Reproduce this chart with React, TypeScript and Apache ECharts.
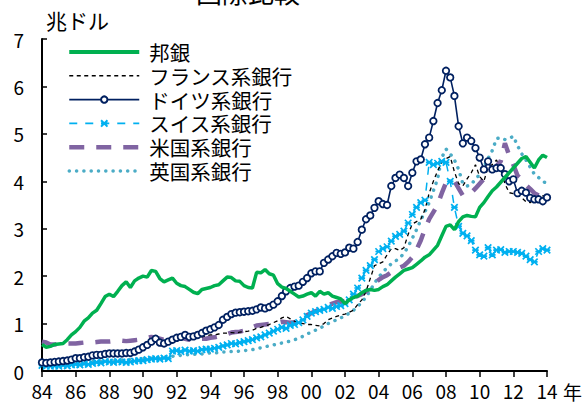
import React, { useEffect, useRef } from "react";
import * as echarts from "echarts";

// quarterly observations, 1984Q1 .. 2014Q1
const START_YEAR = 1984;
const N_QUARTERS = 121;
const xTickLabels = ["84","86","88","90","92","94","96","98","00","02","04","06","08","10","12","14"];

const japan = [
  0.56,0.50,0.52,0.56, 0.57,0.58,0.66,0.76, 0.83,0.92,1.05,1.12, 1.22,1.28,1.42,1.57,
  1.62,1.57,1.68,1.80, 1.88,1.76,1.90,1.96, 2.00,1.98,2.12,2.10, 1.95,1.88,1.92,1.96,
  1.85,1.80,1.78,1.72, 1.66,1.63,1.72,1.74, 1.76,1.80,1.82,1.90, 1.98,1.97,1.90,1.89,
  1.80,1.76,1.75,2.08, 2.07,2.14,2.05,2.02, 1.84,1.77,1.74,1.68, 1.62,1.56,1.58,1.62,
  1.65,1.58,1.68,1.62, 1.65,1.58,1.55,1.52, 1.42,1.50,1.55,1.58, 1.65,1.70,1.72,1.70,
  1.72,1.78,1.82,1.90, 1.98,2.05,2.12,2.15, 2.18,2.25,2.32,2.40, 2.45,2.55,2.65,2.85,
  3.05,3.08,2.98,3.15, 3.25,3.28,3.26,3.25, 3.45,3.55,3.68,3.80, 3.88,3.98,4.08,4.18,
  4.28,4.38,4.48,4.52, 4.40,4.28,4.45,4.55, 4.50
];

const france: (number | null)[] = [
  null,null,null,null, null,null,null,null, null,null,null,null, null,null,null,null,
  null,null,null,null, null,null,null,null, null,null,null,null, null,null,null,null,
  null,null,null,null, 0.70,0.71,0.72,0.74, 0.76,0.76,0.78,0.80, 0.80,0.81,0.80,0.82,
  0.83,0.84,0.86,0.90, 0.92,0.95,0.98,1.02, 1.06,1.12,1.15,1.10, 1.05,1.02,1.00,0.98,
  0.98,0.96,0.95,1.00, 1.08,1.12,1.15,1.18, 1.20,1.24,1.28,1.40, 1.50,1.68,1.95,2.22,
  2.26,2.30,2.45,2.58, 2.58,2.54,2.60,2.88, 3.10,3.15,3.20,3.40, 3.75,4.00,4.22,4.40,
  4.48,4.52,4.20,3.95, 3.90,4.05,4.18,4.35, 4.10,4.00,4.30,4.35, 4.45,4.25,3.95,3.76,
  3.74,3.72,3.65,3.57, 3.55,3.62,3.66,3.69, 3.70
];

const germany = [
  0.18,0.17,0.18,0.19, 0.20,0.21,0.22,0.24, 0.27,0.27,0.29,0.30, 0.33,0.34,0.34,0.36,
  0.37,0.37,0.37,0.37, 0.38,0.38,0.41,0.45, 0.50,0.55,0.62,0.68, 0.60,0.58,0.62,0.66,
  0.70,0.72,0.76,0.72, 0.73,0.76,0.80,0.85, 0.88,0.92,0.97,1.08, 1.14,1.20,1.23,1.24,
  1.25,1.26,1.27,1.30, 1.34,1.32,1.35,1.40, 1.47,1.58,1.68,1.75, 1.78,1.80,1.88,1.96,
  2.06,2.10,2.10,2.28, 2.35,2.42,2.49,2.47, 2.50,2.60,2.58,2.72, 2.98,3.20,3.28,3.44,
  3.58,3.52,3.50,3.90, 4.07,4.14,4.07,3.90, 4.18,4.42,4.46,4.78, 4.92,5.27,5.65,5.92,
  6.33,6.19,5.80,5.16, 4.80,4.92,4.85,4.70, 4.50,4.25,4.42,4.25, 4.28,4.28,4.15,4.00,
  4.04,3.75,3.80,3.76, 3.65,3.62,3.62,3.58, 3.66
];

const swiss = [
  0.12,0.10,0.10,0.11, 0.10,0.12,0.11,0.13, 0.14,0.13,0.15,0.14, 0.16,0.18,0.17,0.20,
  0.19,0.18,0.20,0.19, 0.18,0.19,0.21,0.22, 0.22,0.24,0.25,0.26, 0.25,0.27,0.26,0.42,
  0.43,0.41,0.44,0.42, 0.43,0.42,0.45,0.46, 0.46,0.48,0.50,0.53, 0.55,0.58,0.57,0.60,
  0.62,0.64,0.66,0.70, 0.72,0.76,0.80,0.84, 0.88,0.92,0.90,0.96, 0.98,1.02,1.08,1.15,
  1.22,1.25,1.28,1.30, 1.34,1.32,1.36,1.38, 1.42,1.50,1.62,1.75, 1.96,2.12,2.22,2.35,
  2.52,2.58,2.62,2.74, 2.84,2.88,2.95,3.12, 3.30,3.45,3.55,3.60, 4.40,4.35,4.38,4.42,
  4.40,4.00,3.45,3.05, 2.90,2.85,2.75,2.55, 2.45,2.42,2.60,2.45, 2.55,2.56,2.50,2.52,
  2.52,2.50,2.48,2.42, 2.35,2.30,2.52,2.58, 2.55
];

const us = [
  0.62,0.60,0.56,0.56, 0.57,0.58,0.58,0.58, 0.58,0.59,0.60,0.60, 0.60,0.61,0.62,0.62,
  0.62,0.63,0.64,0.64, 0.63,0.64,0.65,0.66, 0.67,0.70,0.72,0.70, 0.68,0.66,0.66,0.68,
  0.70,0.70,0.68,0.66, 0.67,0.68,0.68,0.68, 0.70,0.71,0.73,0.76, 0.78,0.81,0.82,0.83,
  0.85,0.87,0.92,0.96, 0.97,0.98,0.99,1.01, 1.02,1.04,1.03,1.02, 1.03,1.06,1.10,1.18,
  1.22,1.26,1.30,1.34, 1.38,1.42,1.45,1.46, 1.48,1.50,1.55,1.58, 1.62,1.68,1.75,1.85,
  1.92,1.98,2.02,2.08, 2.14,2.18,2.22,2.30, 2.40,2.56,2.75,3.00, 3.20,3.35,3.50,3.75,
  3.97,4.02,4.00,3.85, 3.70,3.72,3.76,3.85, 3.95,4.05,4.15,4.25, 4.32,4.42,4.80,4.55,
  4.35,4.12,4.04,3.92, 3.84,3.75,3.70,3.72, 3.78
];

const uk = [
  0.15,0.15,0.16,0.16, 0.16,0.17,0.17,0.18, 0.18,0.19,0.19,0.20, 0.20,0.21,0.21,0.22,
  0.22,0.22,0.23,0.23, 0.24,0.24,0.25,0.25, 0.26,0.27,0.27,0.28, 0.28,0.29,0.30,0.31,
  0.32,0.33,0.34,0.34, 0.35,0.36,0.36,0.37, 0.38,0.38,0.39,0.40, 0.40,0.41,0.41,0.42,
  0.43,0.44,0.45,0.47, 0.49,0.51,0.53,0.55, 0.57,0.59,0.61,0.63, 0.66,0.69,0.73,0.78,
  0.82,0.86,0.90,0.95, 1.00,1.04,1.08,1.12, 1.16,1.22,1.28,1.36, 1.45,1.56,1.70,1.85,
  1.98,2.08,2.18,2.26, 2.32,2.38,2.48,2.62, 2.80,2.98,3.18,3.36, 3.55,3.80,4.05,4.50,
  4.68,4.58,4.45,4.25, 3.95,3.90,3.93,4.05, 4.14,4.30,4.48,4.65, 4.90,4.92,4.88,4.90,
  4.95,4.75,4.58,4.45, 4.30,4.15,4.08,4.00, 3.95
];

const FONT = "'Noto Sans CJK JP', 'Noto Sans', sans-serif";

function toPairs(vals: (number | null)[]) {
  const out: [number, number][] = [];
  for (let i = 0; i < N_QUARTERS; i++) {
    const v = vals[i];
    if (v !== null && v !== undefined) out.push([START_YEAR + i / 4, v]);
  }
  return out;
}

const crossPath = "path://M0,0L10,10M10,0L0,10M0,5L10,5";
const hidden = { opacity: 0 };

export default function App() {
  const ref = useRef<HTMLDivElement>(null);
  useEffect(() => {
    if (!ref.current) return;
    const chart = echarts.init(ref.current, undefined, { renderer: "svg" });
    chart.setOption({
      animation: false,
      backgroundColor: "#ffffff",
      textStyle: { fontFamily: FONT },
      grid: { left: 42, right: 40, top: 39, bottom: 36, containLabel: false },
      legend: {
        orient: "vertical",
        left: 62,
        top: 36,
        itemWidth: 70,
        itemHeight: 8,
        itemGap: 1.8,
        textStyle: { fontSize: 20.5, color: "#000", fontFamily: FONT, lineHeight: 22, padding: [0, 0, 0, 5] },
        data: [
          { name: "邦銀", itemStyle: hidden, lineStyle: { width: 4, color: "#00B050" } },
          { name: "フランス系銀行", itemStyle: hidden, lineStyle: { width: 1.5, color: "#000", type: [4, 3.5] } },
          { name: "ドイツ系銀行", lineStyle: { width: 1.8, color: "#002060" } },
          { name: "スイス系銀行", lineStyle: { width: 1.7, color: "#00B0F0", type: [8, 8] } },
          { name: "米国系銀行", itemStyle: hidden, lineStyle: { width: 4.5, color: "#8064A2", type: [15, 12] } },
          { name: "英国系銀行", itemStyle: hidden, lineStyle: { width: 3.5, color: "#4BACC6", type: [0.1, 7.2], cap: "round" } },
        ],
      },
      xAxis: {
        type: "value",
        min: 1984,
        max: 2014,
        interval: 2,
        axisLine: { lineStyle: { color: "#000", width: 2 } },
        axisTick: { inside: false, length: 6, lineStyle: { color: "#000", width: 1.5 } },
        splitLine: { show: false },
        axisLabel: {
          color: "#000",
          fontSize: 19,
          fontFamily: FONT,
          margin: 10,
          formatter: (v: number) => xTickLabels[Math.round((v - START_YEAR) / 2)] ?? "",
        },
      },
      yAxis: {
        type: "value",
        min: 0,
        max: 7,
        interval: 1,
        axisLine: { show: true, lineStyle: { color: "#000", width: 2 } },
        axisTick: { show: true, inside: true, length: 5, lineStyle: { color: "#000", width: 1.5 } },
        splitLine: { show: false },
        axisLabel: { color: "#000", fontSize: 19, fontFamily: FONT, margin: 18 },
      },
      graphic: [
        { type: "text", left: 46, top: 9, style: { text: "兆ドル", font: `21px ${FONT}`, fill: "#000" } },
        { type: "text", left: 563, top: 382, style: { text: "年", font: `19px ${FONT}`, fill: "#000" } },
        { type: "text", left: 196, top: -22, style: { text: "国際比較", font: `26px ${FONT}`, fill: "#000" } },
      ],
      series: [
        {
          name: "英国系銀行",
          type: "line",
          data: toPairs(uk),
          showSymbol: false,
          symbol: "none",
          lineStyle: { color: "#4BACC6", width: 3.5, type: [0.1, 7.2], cap: "round" },
          itemStyle: { color: "#4BACC6" },
          z: 2,
        },
        {
          name: "米国系銀行",
          type: "line",
          data: toPairs(us),
          showSymbol: false,
          symbol: "none",
          lineStyle: { color: "#8064A2", width: 4.5, type: [15, 12] },
          itemStyle: { color: "#8064A2" },
          z: 3,
        },
        {
          name: "フランス系銀行",
          type: "line",
          data: toPairs(france),
          showSymbol: false,
          symbol: "none",
          lineStyle: { color: "#000", width: 1.3, type: [4, 3.5] },
          itemStyle: { color: "#000" },
          z: 4,
        },
        {
          name: "スイス系銀行",
          type: "line",
          data: toPairs(swiss),
          showSymbol: true,
          showAllSymbol: true,
          symbol: crossPath,
          symbolSize: 6.5,
          lineStyle: { color: "#00B0F0", width: 1.5, type: [8, 8] },
          itemStyle: { color: "#00B0F0", borderColor: "#00B0F0", borderWidth: 1.7 },
          z: 5,
        },
        {
          name: "ドイツ系銀行",
          type: "line",
          data: toPairs(germany),
          showSymbol: true,
          showAllSymbol: true,
          symbol: "circle",
          symbolSize: 6.5,
          lineStyle: { color: "#002060", width: 1.6 },
          itemStyle: { color: "#ffffff", borderColor: "#002060", borderWidth: 1.8 },
          z: 6,
        },
        {
          name: "邦銀",
          type: "line",
          data: toPairs(japan),
          showSymbol: false,
          symbol: "none",
          lineStyle: { color: "#00B050", width: 3.5 },
          itemStyle: { color: "#00B050" },
          z: 7,
        },
      ],
    });
    return () => chart.dispose();
  }, []);
  return <div ref={ref} style={{ position: "absolute", left: 0, top: 0, width: 587, height: 407 }} />;
}
